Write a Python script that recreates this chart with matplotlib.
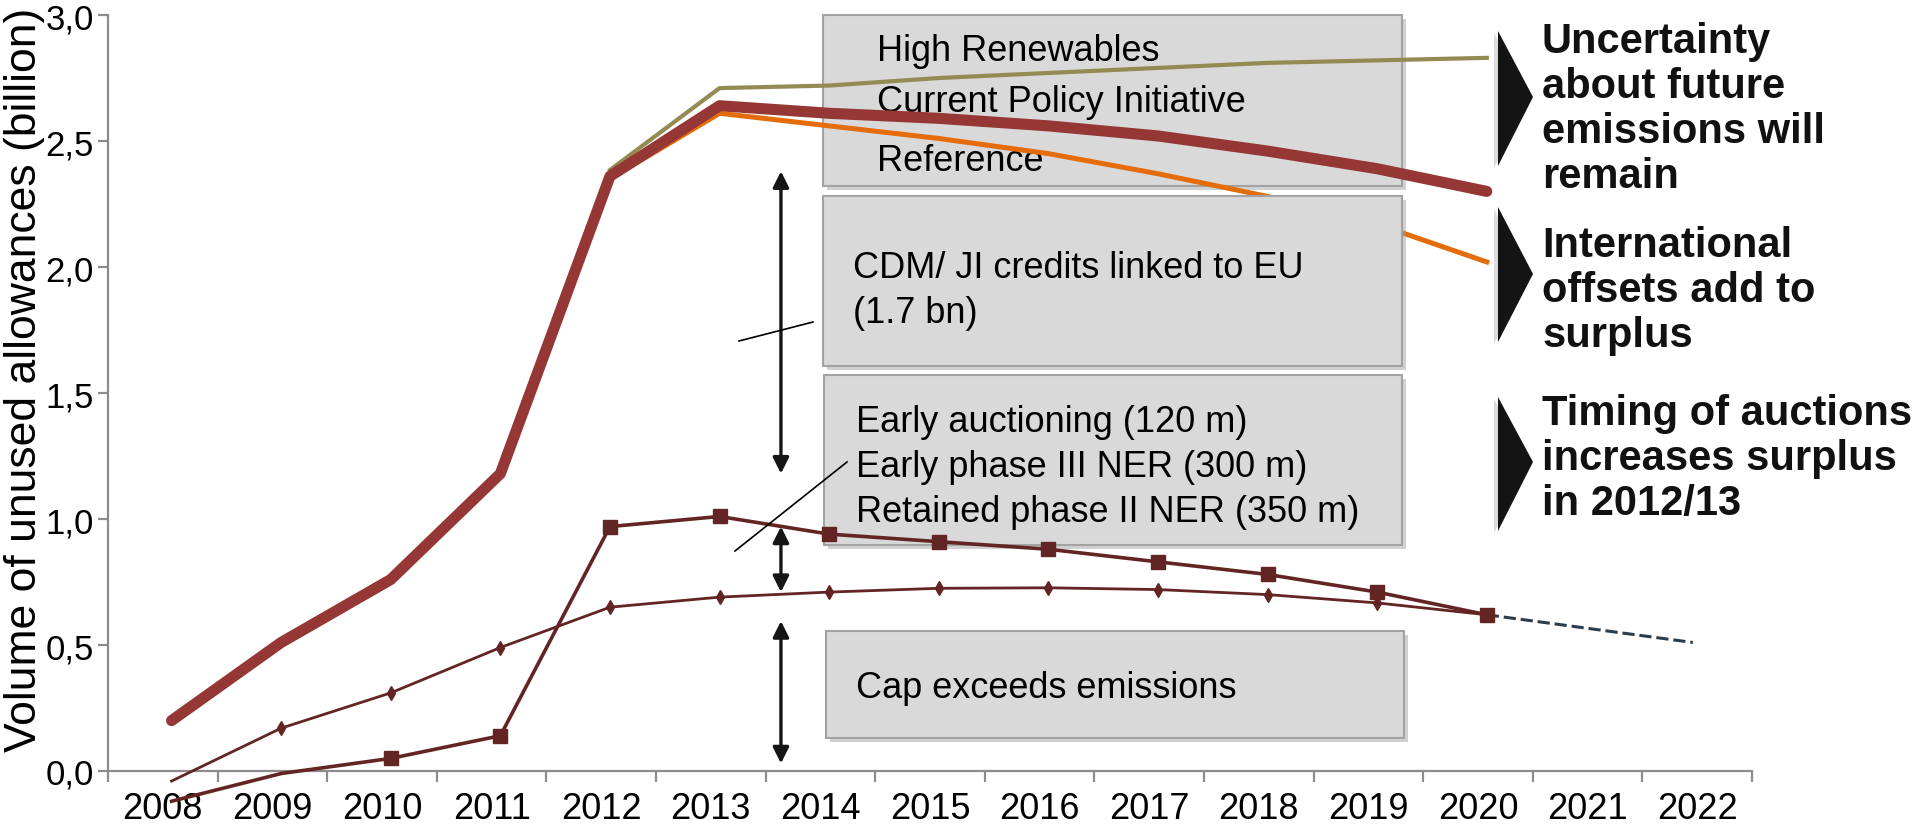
import numpy as np
import matplotlib.pyplot as plt
from matplotlib.patches import Rectangle, Polygon

plt.rcParams['font.family'] = ['Liberation Sans', 'DejaVu Sans']

W, H = 1917, 828

years = ['2008', '2009', '2010', '2011', '2012', '2013', '2014', '2015',
         '2016', '2017', '2018', '2019', '2020', '2021', '2022']
# series 2008-2020
current_policy = [0.20, 0.51, 0.76, 1.18, 2.36, 2.64, 2.61, 2.59, 2.56, 2.52, 2.46, 2.39, 2.30]
with_early_auctions = [-0.12, -0.01, 0.05, 0.14, 0.97, 1.01, 0.94, 0.91, 0.88, 0.83, 0.78, 0.71, 0.62]
cap_minus_emissions = [-0.04, 0.17, 0.31, 0.49, 0.65, 0.69, 0.71, 0.725, 0.727, 0.72, 0.70, 0.667, 0.62]
# series 2012-2020
high_renewables = [2.385, 2.71, 2.72, 2.75, 2.77, 2.79, 2.81, 2.82, 2.83]
reference = [2.35, 2.61, 2.56, 2.51, 2.45, 2.37, 2.28, 2.17, 2.02]
# trend 2020-2022
trend = [0.62, 0.51]

box_top_labels = ['High Renewables', 'Current Policy Initiative', 'Reference']
box_cdm = ['CDM/ JI credits linked to EU', '(1.7 bn)']
box_early = ['Early auctioning (120 m)', 'Early phase III NER (300 m)', 'Retained phase II NER (350 m)']
box_cap = ['Cap exceeds emissions']
side_notes = [['Uncertainty', 'about future', 'emissions will', 'remain'],
              ['International', 'offsets add to', 'surplus'],
              ['Timing of auctions', 'increases surplus', 'in 2012/13']]


def fx(x):
    return x / W


def fy(y):
    return 1 - y / H


fig = plt.figure(figsize=(W / 100, H / 100), dpi=100)
ax = fig.add_axes([fx(108), fy(772), fx(1752) - fx(108), fy(16) - fy(772)])
tf = fig.transFigure

idx = np.arange(len(years))
off = 0.08
x_all = idx[:13] + off
x_late = idx[4:13] + off

ax.plot(x_all, with_early_auctions, color='#632523', lw=2.6, marker='s', ms=9.5,
        markevery=list(range(2, 13)), zorder=5, clip_on=False)
ax.plot(x_all, cap_minus_emissions, color='#632523', lw=2.0, marker='d', ms=7,
        markevery=list(range(1, 12)), zorder=5, clip_on=False)
ax.plot([idx[12] + off, idx[14] - 0.04], trend, color='#2b3d4c', lw=2.2,
        dashes=(4, 1.6), zorder=4, clip_on=False)
ax.plot(x_late, reference, color='#e46c0a', lw=3.6, zorder=3, clip_on=False)
ax.plot(x_late, high_renewables, color='#948a54', lw=3.0, zorder=3, clip_on=False)
ax.plot(x_all, current_policy, color='#953735', lw=8, zorder=3.5,
        solid_capstyle='round', clip_on=False)

ax.set_xlim(-0.5, 14.5)
ax.set_ylim(0, 3.0)
ax.set_xticks(np.arange(-0.5, 15, 1.0))
ax.set_xticklabels([])
ax.set_xticks(idx, minor=True)
ax.set_xticklabels(years, minor=True)
ax.set_yticks(np.arange(0, 3.01, 0.5))
ax.set_yticklabels([f'{v:.1f}'.replace('.', ',') for v in np.arange(0, 3.01, 0.5)])
ax.tick_params(axis='x', which='major', length=8, width=1.6, color='#8c8c8c', direction='out')
ax.tick_params(axis='x', which='minor', length=0, pad=14.5, labelsize=26)
ax.tick_params(axis='y', length=7, width=1.6, color='#8c8c8c', labelsize=25, pad=3)
for s in ['top', 'right']:
    ax.spines[s].set_visible(False)
for s in ['left', 'bottom']:
    ax.spines[s].set_color('#8c8c8c')
    ax.spines[s].set_linewidth(1.6)
ax.text(fx(25), fy(380), 'Volume of unused allowances (billion)', transform=tf,
        rotation=90, ha='center', va='center', fontsize=32, clip_on=False)


def box(x0, y0, x1, y1, z):
    ax.add_patch(Rectangle((fx(x0 + 4), fy(y1 + 4)), fx(x1 - x0), fy(y0) - fy(y1),
                           transform=tf, facecolor='#9a9a9a', alpha=0.45,
                           edgecolor='none', zorder=z - 0.1, clip_on=False))
    ax.add_patch(Rectangle((fx(x0), fy(y1)), fx(x1 - x0), fy(y0) - fy(y1),
                           transform=tf, facecolor='#d9d9d9', edgecolor='#a3a3a3',
                           lw=1.5, zorder=z, clip_on=False))


def lines_text(x, baselines, lines, z, **kw):
    for lab, yb in zip(lines, baselines):
        ax.text(fx(x), fy(yb), lab, transform=tf, va='baseline', zorder=z,
                clip_on=False, **kw)


box(823, 16, 1402, 187, 1)
box(823, 197, 1402, 367, 6)
box(824, 376, 1402, 546, 1)
box(826, 632, 1404, 739, 1)

lines_text(877, [61, 112, 171], box_top_labels, 2, fontsize=26)
lines_text(853, [278, 323], box_cdm, 7, fontsize=26)
lines_text(856, [432, 477, 522], box_early, 2, fontsize=26)
lines_text(856, [698], box_cap, 2, fontsize=26)

# double arrows
arrow_x = 5.64
for y1, y2 in [(2.38, 1.18), (0.97, 0.71), (0.595, 0.03)]:
    ax.annotate('', xy=(arrow_x, y1), xytext=(arrow_x, y2),
                arrowprops=dict(arrowstyle='<|-|>', color='#151515', lw=2.4,
                                mutation_scale=24, shrinkA=0, shrinkB=0),
                zorder=6, annotation_clip=False)

# pointer lines
for (xa, ya), (xb, yb) in [((739, 342), (813, 323)), ((735, 552), (847, 463))]:
    ax.plot([fx(xa), fx(xb)], [fy(ya), fy(yb)], transform=tf, color='black',
            lw=1.2, zorder=7, clip_on=False)

# side chevrons and notes
chevrons = [(32, 167, 98), (208, 343, 275), (398, 532, 463)]
note_baselines = [[53, 98, 143, 188], [257, 302, 347], [425, 470, 515]]
for (t, b, tip), note, bases in zip(chevrons, side_notes, note_baselines):
    ax.add_patch(Polygon([(fx(1494), fy(t + 2)), (fx(1529), fy(tip + 2)), (fx(1494), fy(b + 2))],
                         closed=True, transform=tf, facecolor='#bbbbbb', alpha=0.5,
                         edgecolor='none', clip_on=False))
    ax.add_patch(Polygon([(fx(1498), fy(t)), (fx(1533), fy(tip)), (fx(1498), fy(b))],
                         closed=True, transform=tf, facecolor='#141414',
                         edgecolor='none', clip_on=False))
    lines_text(1542, bases, note, 8, fontsize=30, fontweight='bold', color='#111111')

fig.savefig('out.png', dpi=100)
